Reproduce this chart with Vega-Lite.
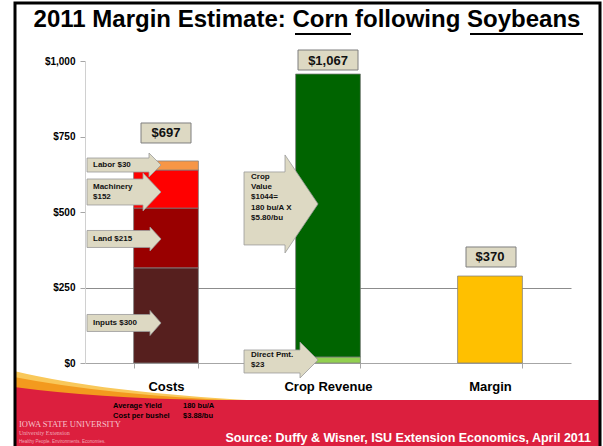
{
  "$schema": "https://vega.github.io/schema/vega-lite/v6.json",
  "width": 486,
  "height": 302,
  "autosize": {"type": "none"},
  "padding": {"left": 85, "top": 61, "right": 32, "bottom": 83},
  "background": "white",
  "title": {
    "text": "2011 Margin Estimate: Corn following Soybeans",
    "font": "Liberation Sans",
    "fontSize": 24,
    "fontWeight": "bold",
    "color": "black",
    "anchor": "middle",
    "baseline": "alphabetic",
    "offset": -54,
    "dx": -21
  },
  "config": {"view": {"stroke": null}, "font": "Liberation Sans"},
  "datasets": {
    "bars": [
      {"cat": "Costs", "part": "Inputs", "value": 315, "order": 1},
      {"cat": "Costs", "part": "Land", "value": 198, "order": 2},
      {"cat": "Costs", "part": "Machinery", "value": 126, "order": 3},
      {"cat": "Costs", "part": "Labor", "value": 30, "order": 4},
      {"cat": "Crop Revenue", "part": "Direct Pmt", "value": 20, "order": 1},
      {"cat": "Crop Revenue", "part": "Crop Value", "value": 937, "order": 2},
      {"cat": "Margin", "part": "Margin", "value": 288, "order": 1}
    ],
    "callouts": [
      {"cat": "Costs", "id": "Labor", "at": 655.6, "text": "Labor $30"},
      {"cat": "Costs", "id": "Machinery", "at": 582.8, "text": "Machinery\n$152"},
      {"cat": "Costs", "id": "Land", "at": 410.6, "text": "Land $215"},
      {"cat": "Costs", "id": "Inputs", "at": 132.5, "text": "Inputs $300"},
      {"cat": "Crop Revenue", "id": "Crop", "at": 616, "text": "Crop\nValue\n$1044=\n180 bu/A X\n$5.80/bu"},
      {"cat": "Crop Revenue", "id": "Direct", "at": 26.5, "text": "Direct Pmt.\n$23"}
    ],
    "totals": [
      {"cat": "Costs", "label": "$697", "at": 761.6},
      {"cat": "Crop Revenue", "label": "$1,067", "at": 1003.3},
      {"cat": "Margin", "label": "$370", "at": 351}
    ],
    "notes": [
      {"id": "yieldL", "cat": "Costs", "text": "Average Yield\nCost per bushel"},
      {"id": "yieldR", "cat": "Costs", "text": "180 bu/A\n$3.88/bu"},
      {"id": "isu1", "cat": "Costs", "text": "IOWA STATE UNIVERSITY"},
      {"id": "isu2", "cat": "Costs", "text": "University Extension"},
      {"id": "isu3", "cat": "Costs", "text": "Healthy People. Environments. Economies."},
      {"id": "source", "cat": "Margin", "text": "Source:  Duffy & Wisner, ISU Extension Economics, April 2011"}
    ]
  },
  "encoding": {
    "x": {
      "field": "cat",
      "type": "nominal",
      "scale": {"domain": ["Costs", "Crop Revenue", "Margin"], "paddingInner": 0.6, "paddingOuter": 0.3},
      "axis": {
        "title": null,
        "labelAngle": 0,
        "labelFont": "Liberation Sans",
        "labelFontSize": 13,
        "labelFontWeight": "bold",
        "labelColor": "black",
        "labelPadding": 12,
        "tickBand": "extent",
        "tickColor": "#a6a6a6",
        "tickSize": 5,
        "domainColor": "#a6a6a6"
      }
    }
  },
  "layer": [
    {
      "data": {"values": [{}]},
      "mark": {"type": "point", "shape": "M-152,8 Q-60,30 100,38 L-152,40 Z", "size": 4, "filled": true, "fill": "#f9c85a", "opacity": 1},
      "encoding": {"x": {"datum": "Costs"}, "y": {"datum": 0, "type": "quantitative", "title": null}}
    },
    {
      "data": {"values": [{}]},
      "mark": {"type": "point", "shape": "M-152,14 Q-60,32 80,38 L-152,40 Z", "size": 4, "filled": true, "fill": "#f39a1e", "opacity": 1},
      "encoding": {"x": {"datum": "Costs"}, "y": {"datum": 0, "type": "quantitative", "title": null}}
    },
    {
      "data": {"values": [{}]},
      "mark": {"type": "point", "shape": "M-152,24 Q-70,35 40,37 L434,37 L434,90 L-152,90 Z", "size": 4, "filled": true, "fill": "#dc1f3e", "opacity": 1},
      "encoding": {"x": {"datum": "Costs"}, "y": {"datum": 0, "type": "quantitative", "title": null}}
    },
    {
      "data": {"name": "bars"},
      "mark": {"type": "bar", "stroke": "#7f7f7f", "strokeWidth": 0.75},
      "encoding": {
        "y": {
          "field": "value",
          "type": "quantitative",
          "stack": "zero",
          "title": null,
          "scale": {"domain": [0, 1000], "nice": false},
          "axis": {
            "title": null,
            "values": [0, 250, 500, 750, 1000],
            "format": "$,d",
            "labelFont": "Liberation Sans",
            "labelFontSize": 10,
            "labelFontWeight": "bold",
            "labelColor": "black",
            "labelPadding": 5,
            "tickColor": "#a6a6a6",
            "tickSize": 5,
            "domainColor": "#d0d0d0",
            "grid": true,
            "gridColor": "#8c8c8c",
            "gridOpacity": {"condition": {"test": "datum.value === 250", "value": 1}, "value": 0}
          }
        },
        "order": {"field": "order", "type": "quantitative"},
        "color": {
          "field": "part",
          "type": "nominal",
          "legend": null,
          "scale": {
            "domain": ["Inputs", "Land", "Machinery", "Labor", "Direct Pmt", "Crop Value", "Margin"],
            "range": ["#561f1e", "#990000", "#ff0000", "#f79646", "#92d050", "#006400", "#ffc000"]
          }
        }
      }
    },
    {
      "data": {"name": "callouts"},
      "mark": {"type": "point", "size": 4, "filled": true, "fill": "#ddd9c3", "stroke": "#9a9a9a", "strokeWidth": 0.8, "opacity": 1},
      "encoding": {
        "y": {"field": "at", "type": "quantitative", "title": null},
        "shape": {
          "field": "id",
          "type": "nominal",
          "legend": null,
          "scale": {
            "domain": ["Labor", "Machinery", "Land", "Inputs", "Crop", "Direct"],
            "range": [
              "M-79,-7H-17V-12L-5,0L-17,12V7H-79Z",
              "M-79,-8H-23V-14L-5,5L-23,24V18H-79Z",
              "M-79,-8.5H-16V-12L-5,0L-16,12V8.5H-79Z",
              "M-79,-8.5H-16V-12.5L-5,0L-16,12.5V8.5H-79Z",
              "M-84,-5H-43V-22L-10,27L-43,76V68H-84Z",
              "M-84,-5H-28V-13L-10,5L-28,23V18H-84Z"
            ]
          }
        }
      }
    },
    {
      "data": {"name": "callouts"},
      "transform": [{"filter": "datum.cat == 'Costs'"}],
      "mark": {"type": "text", "align": "left", "baseline": "middle", "dx": -73, "fontSize": 8, "fontWeight": "bold", "font": "Liberation Sans", "color": "#111111", "lineBreak": "\n", "lineHeight": 10.5},
      "encoding": {"y": {"field": "at", "type": "quantitative", "title": null}, "text": {"field": "text"}}
    },
    {
      "data": {"name": "callouts"},
      "transform": [{"filter": "datum.cat == 'Crop Revenue'"}],
      "mark": {"type": "text", "align": "left", "baseline": "middle", "dx": -77, "fontSize": 8, "fontWeight": "bold", "font": "Liberation Sans", "color": "#111111", "lineBreak": "\n", "lineHeight": 10.2},
      "encoding": {"y": {"field": "at", "type": "quantitative", "title": null}, "text": {"field": "text"}}
    },
    {
      "data": {"name": "totals"},
      "mark": {"type": "point", "size": 4, "filled": true, "fill": "#ddd9c3", "stroke": "#7f7f7f", "strokeWidth": 1, "opacity": 1},
      "encoding": {
        "y": {"field": "at", "type": "quantitative", "title": null},
        "shape": {
          "field": "label",
          "type": "nominal",
          "legend": null,
          "scale": {
            "domain": ["$697", "$1,067", "$370"],
            "range": ["M-25,-10H25V10H-25Z", "M-30,-10H30V10H-30Z", "M-24,-10H26V10H-24Z"]
          }
        }
      }
    },
    {
      "data": {"name": "totals"},
      "mark": {"type": "text", "align": "center", "baseline": "middle", "dy": 0.5, "fontSize": 13, "fontWeight": "bold", "font": "Liberation Sans", "color": "#111111"},
      "encoding": {"y": {"field": "at", "type": "quantitative", "title": null}, "text": {"field": "label"}}
    },
    {
      "data": {"name": "notes"},
      "transform": [{"filter": "datum.id == 'yieldL'"}],
      "mark": {"type": "text", "align": "left", "baseline": "middle", "dx": -53, "dy": 43, "fontSize": 7.5, "fontWeight": "bold", "font": "Liberation Sans", "color": "black", "lineBreak": "\n", "lineHeight": 9.5},
      "encoding": {"y": {"datum": 0, "type": "quantitative", "title": null}, "text": {"field": "text"}}
    },
    {
      "data": {"name": "notes"},
      "transform": [{"filter": "datum.id == 'yieldR'"}],
      "mark": {"type": "text", "align": "left", "baseline": "middle", "dx": 17, "dy": 43, "fontSize": 7.5, "fontWeight": "bold", "font": "Liberation Sans", "color": "black", "lineBreak": "\n", "lineHeight": 9.5},
      "encoding": {"y": {"datum": 0, "type": "quantitative", "title": null}, "text": {"field": "text"}}
    },
    {
      "data": {"name": "notes"},
      "transform": [{"filter": "datum.id == 'isu1'"}],
      "mark": {"type": "text", "align": "left", "baseline": "alphabetic", "dx": -147, "dy": 64, "fontSize": 8.5, "font": "Liberation Serif", "color": "#f6c3cc"},
      "encoding": {"y": {"datum": 0, "type": "quantitative", "title": null}, "text": {"field": "text"}}
    },
    {
      "data": {"name": "notes"},
      "transform": [{"filter": "datum.id == 'isu2'"}],
      "mark": {"type": "text", "align": "left", "baseline": "alphabetic", "dx": -147, "dy": 72, "fontSize": 6, "font": "Liberation Serif", "color": "#f0a8b6"},
      "encoding": {"y": {"datum": 0, "type": "quantitative", "title": null}, "text": {"field": "text"}}
    },
    {
      "data": {"name": "notes"},
      "transform": [{"filter": "datum.id == 'isu3'"}],
      "mark": {"type": "text", "align": "left", "baseline": "alphabetic", "dx": -147, "dy": 80, "fontSize": 4.5, "font": "Liberation Sans", "color": "#f0a8b6"},
      "encoding": {"y": {"datum": 0, "type": "quantitative", "title": null}, "text": {"field": "text"}}
    },
    {
      "data": {"name": "notes"},
      "transform": [{"filter": "datum.id == 'source'"}],
      "mark": {"type": "text", "align": "right", "baseline": "alphabetic", "dx": 101, "dy": 79, "fontSize": 12.5, "fontWeight": "bold", "font": "Liberation Sans", "color": "white"},
      "encoding": {"y": {"datum": 0, "type": "quantitative", "title": null}, "text": {"field": "text"}}
    },
    {
      "data": {"values": [{}]},
      "mark": {"type": "point", "shape": "M129,-329H185M304,-329H417", "size": 4, "filled": false, "stroke": "black", "strokeWidth": 2, "opacity": 1},
      "encoding": {"x": {"datum": "Costs"}, "y": {"datum": 0, "type": "quantitative", "title": null}}
    },
    {
      "data": {"values": [{}]},
      "mark": {"type": "point", "shape": "M-151,-360 L434,-360 L434,90 L-151,90 Z", "size": 4, "filled": false, "stroke": "black", "strokeWidth": 3, "opacity": 1},
      "encoding": {"x": {"datum": "Costs"}, "y": {"datum": 0, "type": "quantitative", "title": null}}
    }
  ],
  "resolve": {"scale": {"shape": "independent"}}
}
